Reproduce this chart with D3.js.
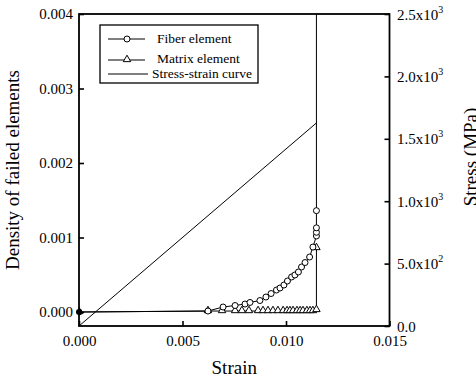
<!DOCTYPE html>
<html>
<head>
<meta charset="utf-8">
<script src="https://cdn.jsdelivr.net/npm/d3@7"></script>
<style>
  html, body { margin: 0; padding: 0; background: #fff; }
  svg { display: block; font-family: 'Liberation Serif', 'Times New Roman', serif; }
</style>
</head>
<body>
<svg id="chart" width="476" height="380"></svg>
<script>
// strain / density of failed fiber elements
const fiberStrain = [0, 0.00623, 0.00696, 0.00754, 0.00802, 0.00826, 0.00874, 0.00903, 0.00928, 0.00954,
    0.00971, 0.0099, 0.01007, 0.01027, 0.01043, 0.0106, 0.01075, 0.01092, 0.01114, 0.0113,
    0.01147, 0.01147, 0.01147, 0.01147, 0.01147]
const fiberDensity = [0, 0.000013, 0.000067, 0.000087, 0.000107, 0.000128, 0.000154, 0.000201, 0.000248, 0.000295,
    0.000322, 0.000362, 0.000416, 0.00047, 0.000497, 0.000537, 0.000604, 0.000664, 0.000738, 0.000872,
    0.00102, 0.00107, 0.00113, 0.00136, 0.006]

// strain / density of failed matrix elements
const matrixStrain = [0, 0.00623, 0.00691, 0.00754, 0.00787, 0.00821, 0.00865, 0.00889, 0.00913, 0.00937,
    0.00961, 0.00986, 0.01005, 0.01019, 0.01034, 0.01053, 0.01068, 0.01082, 0.01101, 0.01116,
    0.0113, 0.01147, 0.01147]
const matrixDensity = [0, 0.000013, 0.000013, 0.000013, 0.000013, 0.000013, 0.000013, 0.000013, 0.000013, 0.000013,
    0.000013, 0.000013, 0.000013, 0.000013, 0.000013, 0.000013, 0.000013, 0.000013, 0.000013, 0.000013,
    0.000013, 0.000027, 0.000859]

// stress-strain curve
const stressStrain = [0, 0.01147]
const stressValue = [0, 1627]

const xTicks = [0, 0.005, 0.01, 0.015]
const leftTicks = [0, 0.001, 0.002, 0.003, 0.004]
const rightTicks = [0, 500, 1000, 1500, 2000, 2500]
const rightLabels = ['0.0', '5.0x10|2', '1.0x10|3', '1.5x10|3', '2.0x10|3', '2.5x10|3']
const legendNames = ['Fiber element', 'Matrix element', 'Stress-strain curve']

const pLeft = 79, pRight = 389.5, pTop = 14, pBottom = 326

const svg = d3.select('#chart')

const x = d3.scaleLinear().domain([0, 0.015]).range([pLeft, pRight])
const yL = d3.scaleLinear().domain([-14 / 74500, 0.004]).range([pBottom, pTop])
const yR = d3.scaleLinear().domain([0, 2500]).range([pBottom, pTop])

// clip for data
svg.append('clipPath').attr('id', 'clip')
    .append('rect')
    .attr('x', pLeft).attr('y', pTop)
    .attr('width', pRight - pLeft).attr('height', pBottom - pTop)

const fiber = fiberStrain.map((s, i) => [s, fiberDensity[i]])
const matrix = matrixStrain.map((s, i) => [s, matrixDensity[i]])
const stress = stressStrain.map((s, i) => [s, stressValue[i]])

const plot = svg.append('g').attr('clip-path', 'url(#clip)')

const lineL = d3.line().x((d) => x(d[0])).y((d) => yL(d[1]))
const lineR = d3.line().x((d) => x(d[0])).y((d) => yR(d[1]))

plot.append('path').datum(stress).attr('d', lineR)
    .attr('fill', 'none').attr('stroke', '#000').attr('stroke-width', 1)
plot.append('path').datum(matrix).attr('d', lineL)
    .attr('fill', 'none').attr('stroke', '#000').attr('stroke-width', 1)
plot.append('path').datum(fiber).attr('d', lineL)
    .attr('fill', 'none').attr('stroke', '#000').attr('stroke-width', 1)

const tri = d3.symbol().type(d3.symbolTriangle).size(24)

plot.selectAll('.tri').data(matrix).enter()
    .append('path')
    .attr('d', tri)
    .attr('transform', (d) => 'translate(' + x(d[0]) + ',' + (yL(d[1]) - 0.5) + ')')
    .attr('fill', '#fff').attr('stroke', '#000').attr('stroke-width', 1)

plot.selectAll('.circ').data(fiber).enter()
    .append('circle')
    .attr('cx', (d) => x(d[0]))
    .attr('cy', (d) => yL(d[1]))
    .attr('r', 3)
    .attr('fill', '#fff').attr('stroke', '#000').attr('stroke-width', 1)

// origin blob
svg.append('circle').attr('cx', x(0)).attr('cy', yL(0)).attr('r', 3).attr('fill', '#000')

// axes, ticks point inward
const gx = svg.append('g').attr('transform', 'translate(0,' + pBottom + ')')
    .call(d3.axisBottom(x).tickValues(xTicks).tickFormat(d3.format('.3f'))
        .tickSizeInner(-5).tickSizeOuter(0).tickPadding(9))
const gl = svg.append('g').attr('transform', 'translate(' + pLeft + ',0)')
    .call(d3.axisLeft(yL).tickValues(leftTicks).tickFormat(d3.format('.3f'))
        .tickSizeInner(-5).tickSizeOuter(0).tickPadding(6))
const gr = svg.append('g').attr('transform', 'translate(' + pRight + ',0)')
    .call(d3.axisRight(yR).tickValues(rightTicks).tickFormat('')
        .tickSizeInner(-5).tickSizeOuter(0))

for (const g of [gx, gl, gr]) {
    g.attr('font-family', null).attr('font-size', null)
    g.select('.domain').remove()
    g.selectAll('line').attr('stroke', '#000').attr('stroke-width', 1.6)
    g.selectAll('text').attr('font-size', 15).attr('fill', '#000')
}

// right labels with superscripts
const rl = svg.append('g')
rightTicks.forEach((v, i) => {
    const parts = rightLabels[i].split('|')
    const t = rl.append('text')
        .attr('x', pRight + 7.5).attr('y', yR(v) + 5.5)
        .attr('font-size', 15)
    t.append('tspan').text(parts[0])
    if (parts[1]) {
        t.append('tspan').attr('font-size', 10).attr('dy', -7).text(parts[1])
    }
})

// frame
svg.append('rect')
    .attr('x', pLeft).attr('y', pTop)
    .attr('width', pRight - pLeft).attr('height', pBottom - pTop)
    .attr('fill', 'none').attr('stroke', '#000').attr('stroke-width', 1.8)

// axis titles
svg.append('text').attr('x', (pLeft + pRight) / 2).attr('y', 374)
    .attr('text-anchor', 'middle').attr('font-size', 19).text('Strain')
svg.append('text')
    .attr('transform', 'translate(18.5,' + (pTop + pBottom) / 2 + ') rotate(-90)')
    .attr('text-anchor', 'middle').attr('font-size', 19).text('Density of failed elements')
svg.append('text')
    .attr('transform', 'translate(477,157) rotate(-90)')
    .attr('text-anchor', 'middle').attr('font-size', 19).text('Stress (MPa)')

// legend
const lg = svg.append('g')
lg.append('rect').attr('x', 100).attr('y', 25).attr('width', 158).attr('height', 58)
    .attr('fill', '#fff').attr('stroke', '#000').attr('stroke-width', 1.3)

const rowY = [39, 60, 74]
const textY = [43, 63, 78]
const textX = [157, 157, 152]
legendNames.forEach((name, i) => {
    lg.append('line').attr('x1', 108).attr('x2', i === 2 ? 148 : 145)
        .attr('y1', rowY[i]).attr('y2', rowY[i])
        .attr('stroke', '#000').attr('stroke-width', 1)
    if (i === 0) {
        lg.append('circle').attr('cx', 127).attr('cy', rowY[i]).attr('r', 3)
            .attr('fill', '#fff').attr('stroke', '#000')
    } else if (i === 1) {
        lg.append('path').attr('d', tri)
            .attr('transform', 'translate(127,' + (rowY[i] - 0.5) + ')')
            .attr('fill', '#fff').attr('stroke', '#000')
    }
    lg.append('text').attr('x', textX[i]).attr('y', textY[i])
        .attr('font-size', 13.5).text(name)
})
</script>
</body>
</html>
